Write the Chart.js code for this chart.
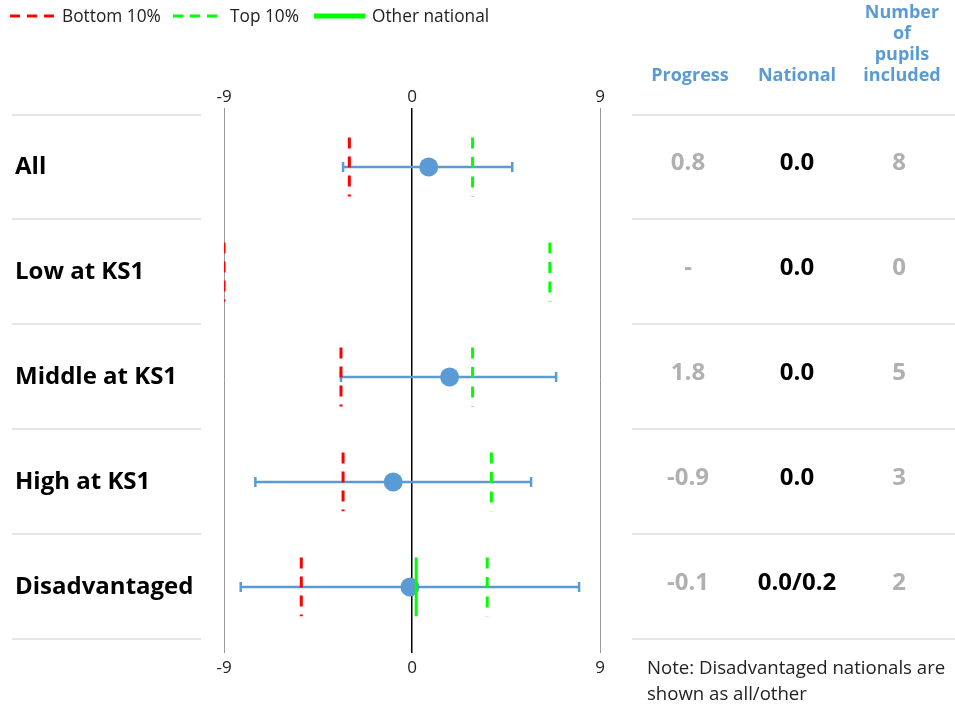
<!DOCTYPE html>
<html>
<head>
<meta charset="utf-8">
<script src="https://cdn.jsdelivr.net/npm/chart.js@4"></script>
<style>
  body { margin: 0; background: #fff; }
  canvas { display: block; }
</style>
</head>
<body>
<canvas id="chart" width="955" height="709"></canvas>
<script>
// rows (top to bottom)
const rows = ['All', 'Low at KS1', 'Middle at KS1', 'High at KS1', 'Disadvantaged'];
// progress score and its confidence interval
const progress = [0.8, null, 1.8, -0.9, -0.1];
const ciLow = [-3.3, null, -3.4, -7.5, -8.2];
const ciHigh = [4.8, null, 6.9, 5.7, 8.0];
// national benchmarks
const bottom10 = [-3.0, -9.0, -3.4, -3.3, -5.3];
const top10 = [2.9, 6.6, 2.9, 3.8, 3.6];
const otherNational = [null, null, null, null, 0.2];
// table columns
const progressText = ['0.8', '-', '1.8', '-0.9', '-0.1'];
const nationalText = ['0.0', '0.0', '0.0', '0.0', '0.0/0.2'];
const pupilsText = ['8', '0', '5', '3', '2'];
const xTicks = [-9, 0, 9];

const BLUE = '#5b9bd5';
const RED = '#ff0000';
const GREEN = '#00ff00';
const FONT = '"Open Sans", sans-serif';
const half = 0.28; // half height of the benchmark markers in row units

const datasets = [];

// other national (solid green)
otherNational.forEach((v, i) => {
    if (v === null) return;
    datasets.push({
        type: 'line',
        data: [{x: v, y: i - half}, {x: v, y: i + half}],
        borderColor: GREEN, borderWidth: 3, pointRadius: 0, order: 0
    });
});

// score points
datasets.push({
    type: 'scatter',
    data: progress.map((v, i) => v === null ? null : {x: v, y: i}).filter(p => p),
    backgroundColor: BLUE, borderWidth: 0, pointRadius: 9.5, order: 1
});

// confidence intervals with caps
progress.forEach((v, i) => {
    if (v === null) return;
    datasets.push({
        type: 'line',
        data: [{x: ciLow[i], y: i}, {x: ciHigh[i], y: i}],
        borderColor: BLUE, borderWidth: 2.5,
        pointStyle: 'line', rotation: 90, pointRadius: 5,
        pointBorderColor: BLUE, pointBorderWidth: 2.5, order: 3
    });
});

// bottom / top 10% dashed markers
bottom10.forEach((v, i) => {
    datasets.push({
        type: 'line',
        data: [{x: v, y: i - half}, {x: v, y: i + half}],
        borderColor: RED, borderWidth: 3, borderDash: [11, 8], pointRadius: 0, order: 2
    });
});
top10.forEach((v, i) => {
    datasets.push({
        type: 'line',
        data: [{x: v, y: i - half}, {x: v, y: i + half}],
        borderColor: GREEN, borderWidth: 3, borderDash: [11, 8.5], pointRadius: 0, order: 2
    });
});

// separators, row labels, table and legend
const tablePlugin = {
    id: 'table',
    afterDraw(chart) {
        const ctx = chart.ctx;
        const y = chart.scales.y;
        ctx.save();

        // row separators
        ctx.strokeStyle = '#e6e6e6';
        ctx.lineWidth = 2;
        for (let i = 0; i <= rows.length; i++) {
            const py = Math.round(y.getPixelForValue(i - 0.5));
            ctx.beginPath();
            ctx.moveTo(12, py); ctx.lineTo(201, py);
            ctx.moveTo(632, py); ctx.lineTo(955, py);
            ctx.stroke();
        }

        // row labels and values
        ctx.textBaseline = 'middle';
        rows.forEach((r, i) => {
            const py = y.getPixelForValue(i);
            ctx.font = 'bold 24px ' + FONT;
            ctx.fillStyle = '#000';
            ctx.textAlign = 'left';
            ctx.fillText(r, 15, py);
            ctx.textAlign = 'center';
            ctx.fillStyle = '#b0b0b0';
            ctx.fillText(progressText[i], 688, py - 4);
            ctx.fillText(pupilsText[i], 899, py - 4);
            ctx.fillStyle = '#000';
            ctx.fillText(nationalText[i], 797, py - 4);
        });

        // headers
        ctx.font = 'bold 18px ' + FONT;
        ctx.fillStyle = BLUE;
        ctx.fillText('Progress', 690, 76);
        ctx.fillText('National', 797, 76);
        ['Number', 'of', 'pupils', 'included'].forEach((t, k) => {
            ctx.fillText(t, 902, 13 + k * 21);
        });

        // note
        ctx.font = '18.6px ' + FONT;
        ctx.fillStyle = '#222';
        ctx.textAlign = 'left';
        ctx.fillText('Note: Disadvantaged nationals are', 647, 669);
        ctx.fillText('shown as all/other', 647, 695);

        // legend
        ctx.lineWidth = 3;
        ctx.strokeStyle = RED;
        ctx.setLineDash([10, 7]);
        ctx.beginPath(); ctx.moveTo(10, 16); ctx.lineTo(54, 16); ctx.stroke();
        ctx.strokeStyle = GREEN;
        ctx.beginPath(); ctx.moveTo(173, 16); ctx.lineTo(220, 16); ctx.stroke();
        ctx.setLineDash([]);
        ctx.lineWidth = 5;
        ctx.beginPath(); ctx.moveTo(314, 16); ctx.lineTo(365, 16); ctx.stroke();
        ctx.font = '17.3px ' + FONT;
        ctx.fillStyle = '#222';
        ctx.fillText('Bottom 10%', 62, 17);
        ctx.fillText('Top 10%', 230, 17);
        ctx.fillText('Other national', 372, 17);

        ctx.restore();
    }
};

const setTicks = axis => { axis.ticks = xTicks.map(v => ({value: v})); };

new Chart(document.getElementById('chart'), {
    data: {datasets: datasets},
    options: {
        responsive: false,
        animation: false,
        devicePixelRatio: 1,
        layout: {padding: {left: 224, right: 355, top: 78, bottom: 26}},
        plugins: {legend: {display: false}, tooltip: {enabled: false}},
        scales: {
            x: {
                type: 'linear', position: 'bottom', min: -9, max: 9,
                afterBuildTicks: setTicks,
                afterFit: s => { s.height = 30; },
                border: {display: false},
                grid: {
                    drawTicks: false,
                    color: c => c.tick && c.tick.value === 0 ? '#000' : '#9a9a9a',
                    lineWidth: c => c.tick && c.tick.value === 0 ? 1.5 : 1
                },
                ticks: {padding: 5, color: '#222', font: {family: FONT, size: 17}}
            },
            x2: {
                type: 'linear', position: 'top', min: -9, max: 9,
                afterBuildTicks: setTicks,
                afterFit: s => { s.height = 30; },
                border: {display: false},
                grid: {display: false, drawTicks: false},
                ticks: {padding: 1, color: '#222', font: {family: FONT, size: 17}}
            },
            y: {
                type: 'linear', display: false, reverse: true,
                min: -0.562, max: 4.629
            }
        }
    },
    plugins: [tablePlugin]
});
</script>
</body>
</html>
